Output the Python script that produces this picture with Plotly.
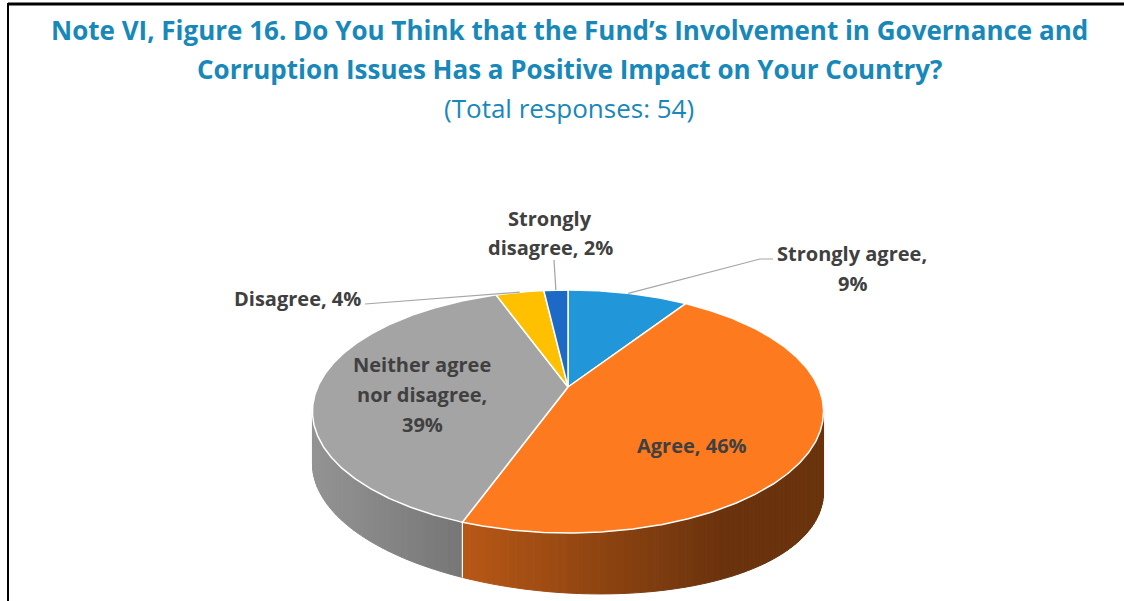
import math

import plotly.graph_objects as go

# data (54 responses)
categories = ["Strongly agree", "Agree", "Neither agree nor disagree", "Disagree", "Strongly disagree"]
responses = [5, 25, 21, 2, 1]
slice_colors = ["#2196D9", "#FE7A1F", "#A4A4A4", "#FFC000", "#1D69C6"]
# how each data label is broken into lines ({p} = percentage)
label_lines = [
    ["Strongly agree,", "{p}%"],
    ["Agree, {p}%"],
    ["Neither agree", "nor disagree,", "{p}%"],
    ["Disagree, {p}%"],
    ["Strongly", "disagree, {p}%"],
]

TITLE_1 = "Note VI, Figure 16. Do You Think that the Fund’s Involvement in Governance and"
TITLE_2 = "Corruption Issues Has a Positive Impact on Your Country?"
SUBTITLE = "(Total responses: 54)"

W, H = 1124, 601
TITLE_COLOR = "#1788B9"
LABEL_COLOR = "#404040"
FONT = "Open Sans, Arial, sans-serif"

# 3D pie geometry (pixels): centre, radii, perspective strength
CX, VY = 568, 387
A, B, K = 250.3, 116.6, 0.2016
T1 = 90 + math.degrees(math.asin(K))
T2 = 270 - math.degrees(math.asin(K))

# label placement (pixels): centre x, y of each line
label_pos = [
    (852, [253, 283]),
    (692, [445]),
    (422, [364, 394, 424]),
    (297, [298]),
    (550, [218, 247]),
]
# leader lines: end points (pixels) from slice rim
leaders = {0: [(760, 259), (773, 259)], 3: [(365, 304)], 4: [(554, 260)]}


def project(t_deg):
    t = math.radians(t_deg)
    x, z = math.sin(t), math.cos(t)
    w = 1 + K * z
    return CX + A * x / w, VY - B * z / w


def depth(px):
    u = (px - CX) / 255.5
    return 60 + 14 * u + 6 * u * u


def shade(hex_color, f):
    r, g, b = (int(hex_color[i:i + 2], 16) for i in (1, 3, 5))
    return f"rgb({int(r * f)},{int(g * f)},{int(b * f)})"


def arc(t0, t1, step=0.5):
    n = max(2, int(abs(t1 - t0) / step) + 1)
    return [t0 + (t1 - t0) * i / (n - 1) for i in range(n)]


total = sum(responses)
bounds = []
acc = 0
for v in responses:
    bounds.append((acc / total * 360, (acc + v) / total * 360))
    acc += v

fig = go.Figure()

# side walls, in thin strips so the shading can change across the front
for (s, e), col in zip(bounds, slice_colors):
    a0, a1 = max(s, T1), min(e, T2)
    if a1 <= a0:
        continue
    ts = arc(a0, a1, 1.5)
    for ta, tb in zip(ts[:-1], ts[1:]):
        (xa, ya), (xb, yb) = project(ta), project(tb)
        da, db = depth(xa), depth(xb)
        u = ((xa + xb) / 2 - CX) / 255.5
        c = shade(col, max(0.42, 0.6 - 0.3 * u))
        fig.add_trace(go.Scatter(
            x=[xa, xb, xb, xa, xa], y=[ya, yb, yb + db, ya + da, ya],
            mode="lines", fill="toself", fillcolor=c, line=dict(color=c, width=1),
            hoverinfo="skip", showlegend=False,
        ))
    # white seam where two walls meet
    if T1 < s < T2:
        x0, y0 = project(s)
        fig.add_trace(go.Scatter(x=[x0, x0], y=[y0, y0 + depth(x0)], mode="lines",
                                 line=dict(color="white", width=1.2), hoverinfo="skip", showlegend=False))

# top faces
for (s, e), col, name in zip(bounds, slice_colors, categories):
    pts = [project(t) for t in arc(s, e)]
    xs = [CX] + [p[0] for p in pts] + [CX]
    ys = [VY] + [p[1] for p in pts] + [VY]
    fig.add_trace(go.Scatter(x=xs, y=ys, mode="lines", fill="toself", fillcolor=col,
                             line=dict(color="white", width=1.5), name=name,
                             hoverinfo="skip", showlegend=False))

# leader lines from the slice rim to the labels
for i, ends in leaders.items():
    s, e = bounds[i]
    x0, y0 = project((s + e) / 2)
    fig.add_trace(go.Scatter(x=[x0] + [p[0] for p in ends], y=[y0] + [p[1] for p in ends],
                             mode="lines", line=dict(color="#A6A6A6", width=1.2),
                             hoverinfo="skip", showlegend=False))

# data labels
for i, v in enumerate(responses):
    p = round(100 * v / total)
    lx, lys = label_pos[i]
    for txt, ly in zip(label_lines[i], lys):
        fig.add_annotation(x=lx, y=ly, text=f"<b>{txt.format(p=p)}</b>", showarrow=False,
                           xanchor="center", yanchor="middle",
                           font=dict(family=FONT, size=20, color=LABEL_COLOR))

# titles
for txt, y, bold in [(TITLE_1, 30, True), (TITLE_2, 69, True), (SUBTITLE, 108, False)]:
    fig.add_annotation(x=569, y=y, text=f"<b>{txt}</b>" if bold else txt, showarrow=False,
                       xanchor="center", yanchor="middle",
                       font=dict(family=FONT, size=26 if bold else 26, color=TITLE_COLOR))

# frame lines
fig.add_shape(type="line", x0=8, x1=W, y0=4, y1=4, line=dict(color="black", width=3))
fig.add_shape(type="line", x0=8, x1=8, y0=3, y1=H, line=dict(color="black", width=2))

fig.update_layout(
    width=W, height=H,
    margin=dict(l=0, r=0, t=0, b=0),
    paper_bgcolor="white", plot_bgcolor="white",
    showlegend=False,
)
fig.update_xaxes(range=[0, W], visible=False, fixedrange=True)
fig.update_yaxes(range=[H, 0], visible=False, fixedrange=True)

# page body has an 8px default margin; drop it so figure pixels line up with the window
fig.write_html("out.html", config={"displayModeBar": False},
               post_script="document.body.style.margin='0';")
